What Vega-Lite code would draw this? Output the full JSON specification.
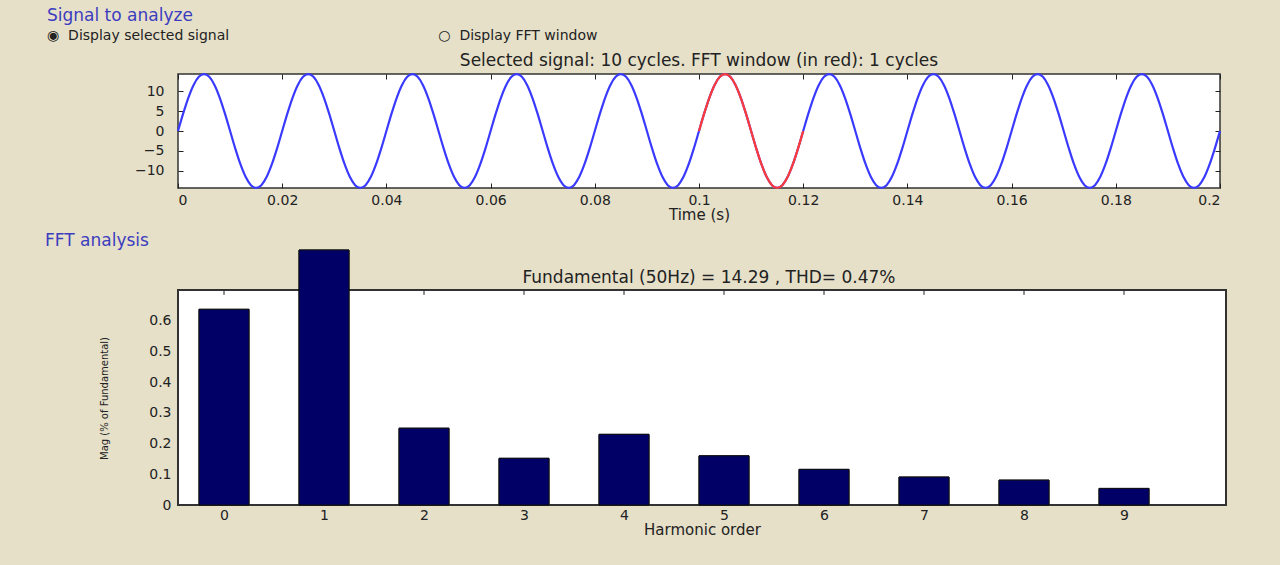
{
"$schema":"https://vega.github.io/schema/vega-lite/v6.json",
"background":"#E6E0C9",
"padding":{"left":45,"top":6,"right":53,"bottom":32},
"datasets":{
"signal":[
{"t":0,"v":0},{"t":0.001,"v":4.416},{"t":0.002,"v":8.399},{"t":0.003,"v":11.561},{"t":0.004,"v":13.591},{"t":0.005,"v":14.29},{"t":0.006,"v":13.591},{"t":0.007,"v":11.561},{"t":0.008,"v":8.399},{"t":0.009,"v":4.416},{"t":0.01,"v":0},{"t":0.011,"v":-4.416},{"t":0.012,"v":-8.399},{"t":0.013,"v":-11.561},{"t":0.014,"v":-13.591},{"t":0.015,"v":-14.29},{"t":0.016,"v":-13.591},{"t":0.017,"v":-11.561},{"t":0.018,"v":-8.399},{"t":0.019,"v":-4.416},
{"t":0.02,"v":0},{"t":0.021,"v":4.416},{"t":0.022,"v":8.399},{"t":0.023,"v":11.561},{"t":0.024,"v":13.591},{"t":0.025,"v":14.29},{"t":0.026,"v":13.591},{"t":0.027,"v":11.561},{"t":0.028,"v":8.399},{"t":0.029,"v":4.416},{"t":0.03,"v":0},{"t":0.031,"v":-4.416},{"t":0.032,"v":-8.399},{"t":0.033,"v":-11.561},{"t":0.034,"v":-13.591},{"t":0.035,"v":-14.29},{"t":0.036,"v":-13.591},{"t":0.037,"v":-11.561},{"t":0.038,"v":-8.399},{"t":0.039,"v":-4.416},
{"t":0.04,"v":0},{"t":0.041,"v":4.416},{"t":0.042,"v":8.399},{"t":0.043,"v":11.561},{"t":0.044,"v":13.591},{"t":0.045,"v":14.29},{"t":0.046,"v":13.591},{"t":0.047,"v":11.561},{"t":0.048,"v":8.399},{"t":0.049,"v":4.416},{"t":0.05,"v":0},{"t":0.051,"v":-4.416},{"t":0.052,"v":-8.399},{"t":0.053,"v":-11.561},{"t":0.054,"v":-13.591},{"t":0.055,"v":-14.29},{"t":0.056,"v":-13.591},{"t":0.057,"v":-11.561},{"t":0.058,"v":-8.399},{"t":0.059,"v":-4.416},
{"t":0.06,"v":0},{"t":0.061,"v":4.416},{"t":0.062,"v":8.399},{"t":0.063,"v":11.561},{"t":0.064,"v":13.591},{"t":0.065,"v":14.29},{"t":0.066,"v":13.591},{"t":0.067,"v":11.561},{"t":0.068,"v":8.399},{"t":0.069,"v":4.416},{"t":0.07,"v":0},{"t":0.071,"v":-4.416},{"t":0.072,"v":-8.399},{"t":0.073,"v":-11.561},{"t":0.074,"v":-13.591},{"t":0.075,"v":-14.29},{"t":0.076,"v":-13.591},{"t":0.077,"v":-11.561},{"t":0.078,"v":-8.399},{"t":0.079,"v":-4.416},
{"t":0.08,"v":0},{"t":0.081,"v":4.416},{"t":0.082,"v":8.399},{"t":0.083,"v":11.561},{"t":0.084,"v":13.591},{"t":0.085,"v":14.29},{"t":0.086,"v":13.591},{"t":0.087,"v":11.561},{"t":0.088,"v":8.399},{"t":0.089,"v":4.416},{"t":0.09,"v":0},{"t":0.091,"v":-4.416},{"t":0.092,"v":-8.399},{"t":0.093,"v":-11.561},{"t":0.094,"v":-13.591},{"t":0.095,"v":-14.29},{"t":0.096,"v":-13.591},{"t":0.097,"v":-11.561},{"t":0.098,"v":-8.399},{"t":0.099,"v":-4.416},
{"t":0.1,"v":0},{"t":0.101,"v":4.416},{"t":0.102,"v":8.399},{"t":0.103,"v":11.561},{"t":0.104,"v":13.591},{"t":0.105,"v":14.29},{"t":0.106,"v":13.591},{"t":0.107,"v":11.561},{"t":0.108,"v":8.399},{"t":0.109,"v":4.416},{"t":0.11,"v":0},{"t":0.111,"v":-4.416},{"t":0.112,"v":-8.399},{"t":0.113,"v":-11.561},{"t":0.114,"v":-13.591},{"t":0.115,"v":-14.29},{"t":0.116,"v":-13.591},{"t":0.117,"v":-11.561},{"t":0.118,"v":-8.399},{"t":0.119,"v":-4.416},
{"t":0.12,"v":0},{"t":0.121,"v":4.416},{"t":0.122,"v":8.399},{"t":0.123,"v":11.561},{"t":0.124,"v":13.591},{"t":0.125,"v":14.29},{"t":0.126,"v":13.591},{"t":0.127,"v":11.561},{"t":0.128,"v":8.399},{"t":0.129,"v":4.416},{"t":0.13,"v":0},{"t":0.131,"v":-4.416},{"t":0.132,"v":-8.399},{"t":0.133,"v":-11.561},{"t":0.134,"v":-13.591},{"t":0.135,"v":-14.29},{"t":0.136,"v":-13.591},{"t":0.137,"v":-11.561},{"t":0.138,"v":-8.399},{"t":0.139,"v":-4.416},
{"t":0.14,"v":0},{"t":0.141,"v":4.416},{"t":0.142,"v":8.399},{"t":0.143,"v":11.561},{"t":0.144,"v":13.591},{"t":0.145,"v":14.29},{"t":0.146,"v":13.591},{"t":0.147,"v":11.561},{"t":0.148,"v":8.399},{"t":0.149,"v":4.416},{"t":0.15,"v":0},{"t":0.151,"v":-4.416},{"t":0.152,"v":-8.399},{"t":0.153,"v":-11.561},{"t":0.154,"v":-13.591},{"t":0.155,"v":-14.29},{"t":0.156,"v":-13.591},{"t":0.157,"v":-11.561},{"t":0.158,"v":-8.399},{"t":0.159,"v":-4.416},
{"t":0.16,"v":0},{"t":0.161,"v":4.416},{"t":0.162,"v":8.399},{"t":0.163,"v":11.561},{"t":0.164,"v":13.591},{"t":0.165,"v":14.29},{"t":0.166,"v":13.591},{"t":0.167,"v":11.561},{"t":0.168,"v":8.399},{"t":0.169,"v":4.416},{"t":0.17,"v":0},{"t":0.171,"v":-4.416},{"t":0.172,"v":-8.399},{"t":0.173,"v":-11.561},{"t":0.174,"v":-13.591},{"t":0.175,"v":-14.29},{"t":0.176,"v":-13.591},{"t":0.177,"v":-11.561},{"t":0.178,"v":-8.399},{"t":0.179,"v":-4.416},
{"t":0.18,"v":0},{"t":0.181,"v":4.416},{"t":0.182,"v":8.399},{"t":0.183,"v":11.561},{"t":0.184,"v":13.591},{"t":0.185,"v":14.29},{"t":0.186,"v":13.591},{"t":0.187,"v":11.561},{"t":0.188,"v":8.399},{"t":0.189,"v":4.416},{"t":0.19,"v":0},{"t":0.191,"v":-4.416},{"t":0.192,"v":-8.399},{"t":0.193,"v":-11.561},{"t":0.194,"v":-13.591},{"t":0.195,"v":-14.29},{"t":0.196,"v":-13.591},{"t":0.197,"v":-11.561},{"t":0.198,"v":-8.399},{"t":0.199,"v":-4.416},
{"t":0.2,"v":0}
],
"fft":[
{"h":0,"mag":0.637},{"h":1,"mag":100},{"h":2,"mag":0.25},{"h":3,"mag":0.152},{"h":4,"mag":0.23},{"h":5,"mag":0.16},{"h":6,"mag":0.116},{"h":7,"mag":0.091},{"h":8,"mag":0.081},{"h":9,"mag":0.054}
]
},
"config":{
"font":"DejaVu Sans",
"view":{"stroke":null},
"axis":{"grid":false,"domain":false,"tickSize":-5,"tickColor":"#222","labelFont":"DejaVu Sans","labelFontSize":14,"labelColor":"#222","titleFont":"DejaVu Sans","titleFontSize":15,"titleFontWeight":"normal","titleColor":"#222","labelPadding":10,"titlePadding":0},
"title":{"font":"DejaVu Sans","fontWeight":"normal"}
},
"title":{"text":"Signal to analyze","subtitle":"◉\u00a0\u00a0Display selected signal\u00a0\u00a0\u00a0\u00a0\u00a0\u00a0\u00a0\u00a0\u00a0\u00a0\u00a0\u00a0\u00a0\u00a0\u00a0\u00a0\u00a0\u00a0\u00a0\u00a0\u00a0\u00a0\u00a0\u00a0\u00a0\u00a0\u00a0\u00a0\u00a0\u00a0\u00a0\u00a0\u00a0\u00a0\u00a0\u00a0\u00a0\u00a0\u00a0\u00a0\u00a0\u00a0\u00a0\u00a0\u00a0\u00a0\u00a0○\u00a0\u00a0Display FFT window","anchor":"start","dx":2,"color":"#3c3cc0","fontSize":17,"subtitleFont":"DejaVu Sans","subtitleFontSize":14,"subtitleColor":"#222","subtitlePadding":4,"offset":7},
"spacing":8,
"vconcat":[
{
"width":1042,"height":114,
"title":{"text":"Selected signal: 10 cycles. FFT window (in red): 1 cycles","fontSize":17,"color":"#222","offset":0,"anchor":"middle"},
"data":{"name":"signal"},
"view":{"fill":"white","stroke":"#333","strokeWidth":1.5},
"layer":[
{"mark":{"type":"line","color":"#3a3aff","strokeWidth":2.2,"interpolate":"monotone"},
"encoding":{
"x":{"field":"t","type":"quantitative","scale":{"domain":[0,0.2],"nice":false,"zero":false},"axis":{"orient":"bottom","values":[0,0.02,0.04,0.06,0.08,0.1,0.12,0.14,0.16,0.18,0.2],"format":"~g","title":"Time (s)","titlePadding":0}},
"y":{"field":"v","type":"quantitative","scale":{"domain":[-14.3,14.3],"nice":false,"zero":false},"axis":{"orient":"left","values":[-10,-5,0,5,10],"title":null,"labelPadding":19}}}},
{"transform":[{"filter":"datum.t >= 0.0995 && datum.t <= 0.1205"}],
"mark":{"type":"line","color":"#ff3a3a","strokeWidth":2.2,"interpolate":"monotone"},
"encoding":{
"x":{"field":"t","type":"quantitative","scale":{"domain":[0,0.2],"nice":false,"zero":false},"axis":{"orient":"top","labels":false,"values":[0,0.02,0.04,0.06,0.08,0.1,0.12,0.14,0.16,0.18,0.2],"title":null}},
"y":{"field":"v","type":"quantitative","scale":{"domain":[-14.3,14.3],"nice":false,"zero":false},"axis":{"orient":"right","labels":false,"values":[-10,-5,0,5,10],"title":null}}}}
],
"resolve":{"axis":{"x":"independent","y":"independent"}}
},
{
"width":1048,"height":255,
"title":{"text":"FFT analysis","anchor":"start","frame":"group","color":"#3c3cc0","fontSize":17,"offset":0,"dx":-133},
"data":{"name":"fft"},
"layer":[
{"mark":{"type":"rect","fill":"white"},
"encoding":{"x":{"datum":-0.46,"type":"quantitative","scale":{"domain":[-0.46,10.02],"nice":false,"zero":false,"padding":0},"axis":null},"x2":{"datum":10.02},"y":{"datum":0,"type":"quantitative","scale":{"domain":[0,0.83],"nice":false,"clamp":true},"axis":null},"y2":{"datum":0.7}}},
{"mark":{"type":"rule","color":"#222","strokeWidth":1},
"encoding":{"x":{"field":"h","type":"quantitative","scale":{"domain":[-0.46,10.02],"nice":false,"zero":false,"padding":0},"axis":null},"y":{"datum":0.7,"type":"quantitative","scale":{"domain":[0,0.83],"nice":false,"clamp":true},"axis":null},"y2":{"datum":0.684}}},
{"mark":{"type":"rect","filled":false,"stroke":"#333","strokeWidth":1.5},
"encoding":{"x":{"datum":-0.46,"type":"quantitative","scale":{"domain":[-0.46,10.02],"nice":false,"zero":false,"padding":0},"axis":null},"x2":{"datum":10.02},"y":{"datum":0,"type":"quantitative","scale":{"domain":[0,0.83],"nice":false,"clamp":true},"axis":null},"y2":{"datum":0.7}}},
{"mark":{"type":"bar","width":50,"color":"#000066","stroke":"#111","strokeWidth":1},
"encoding":{
"x":{"field":"h","type":"quantitative","scale":{"domain":[-0.46,10.02],"nice":false,"zero":false,"padding":0},"axis":{"orient":"bottom","values":[0,1,2,3,4,5,6,7,8,9],"title":"Harmonic order","labelPadding":8,"titlePadding":0}},
"y":{"field":"mag","type":"quantitative","scale":{"domain":[0,0.83],"nice":false,"clamp":true},"axis":{"orient":"left","values":[0,0.1,0.2,0.3,0.4,0.5,0.6],"format":"~g","title":"Mag (% of Fundamental)","titleFontSize":10,"titleX":-69,"titleY":148,"labelPadding":12}}}},
{"mark":{"type":"bar","width":50,"color":"#000066","stroke":"#111","strokeWidth":1},
"encoding":{
"x":{"field":"h","type":"quantitative","scale":{"domain":[-0.46,10.02],"nice":false,"zero":false,"padding":0},"axis":null},
"y":{"field":"mag","type":"quantitative","scale":{"domain":[0,0.83],"nice":false,"clamp":true},"axis":{"orient":"right","labels":false,"values":[0.1,0.2,0.3,0.4,0.5,0.6],"title":null}}}},
{"transform":[{"filter":"datum.h == 0"}],
"mark":{"type":"text","font":"DejaVu Sans","fontSize":17,"color":"#222"},
"encoding":{
"x":{"datum":4.85,"type":"quantitative","scale":{"domain":[-0.46,10.02],"nice":false,"zero":false,"padding":0},"axis":null},
"y":{"datum":0.739,"type":"quantitative","scale":{"domain":[0,0.83],"nice":false,"clamp":true},"axis":null},
"text":{"value":"Fundamental (50Hz) = 14.29 , THD= 0.47%"}}}
],
"resolve":{"axis":{"x":"independent","y":"independent"}}
}
]
}
